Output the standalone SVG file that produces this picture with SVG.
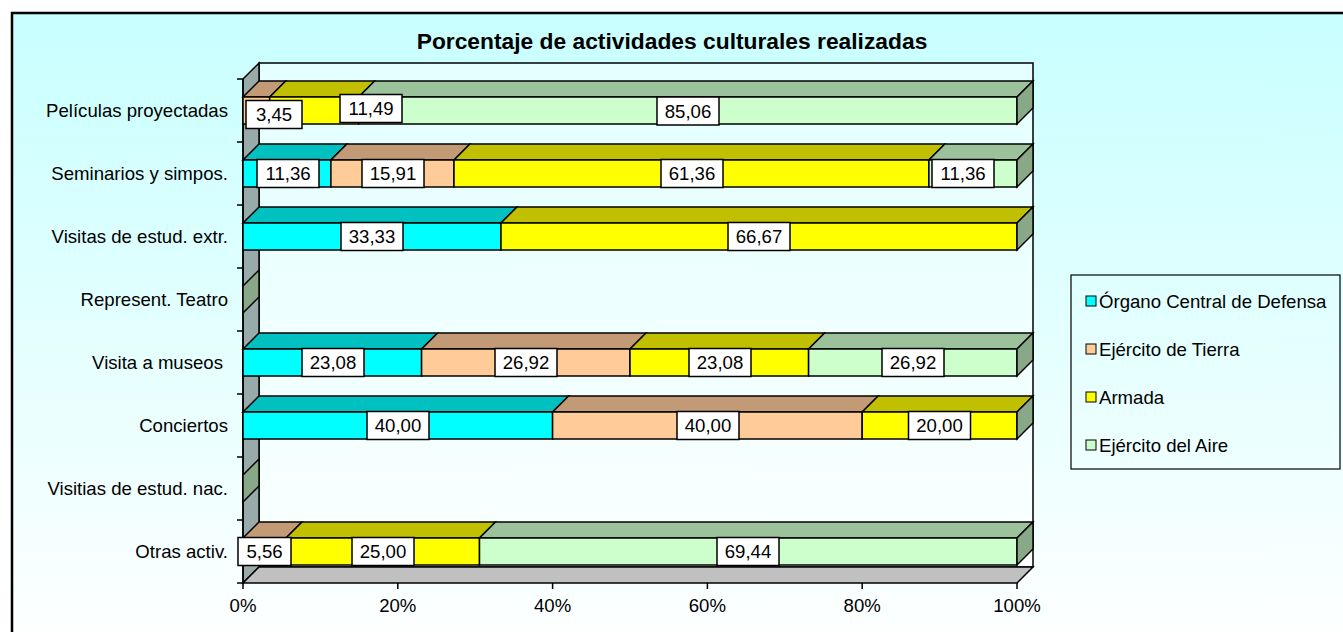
<svg xmlns="http://www.w3.org/2000/svg" width="1343" height="632" viewBox="0 0 1343 632">
<defs>
<linearGradient id="bg" x1="0" y1="0" x2="0" y2="1">
<stop offset="0" stop-color="#C8FFFF"/>
<stop offset="1" stop-color="#FFFFFF"/>
</linearGradient>
</defs>
<style>
text{font-family:"Liberation Sans",Arial,sans-serif;font-size:18.6px;fill:#000}
.title{font-weight:bold;text-anchor:middle;font-size:22.8px}
.cat{text-anchor:end}
.ax{text-anchor:middle}
.val{text-anchor:middle}
.lg{text-anchor:start}
.e{stroke:#000;stroke-width:1.5;stroke-linejoin:miter}
.lb{fill:#FFFFFF;stroke:#000;stroke-width:1.5}
.oF{fill:#00FFFF}.oT{fill:#00C0C0}
.tF{fill:#FFCC99}.tT{fill:#C29B76}
.aF{fill:#FFFF00}.aT{fill:#C0C000}
.iF{fill:#CCFFCC}.iT{fill:#9CC29C}.iS{fill:#88A888}
.tick{stroke:#000;stroke-width:1.5}
</style>
<rect x="0" y="0" width="1343" height="632" fill="#FFFFFF"/>
<rect x="12" y="13" width="1340" height="640" fill="url(#bg)" stroke="#000" stroke-width="2.5"/>
<text class="title" x="672" y="49">Porcentaje de actividades culturales realizadas</text>
<g id="plot-area">
<rect x="259" y="63" width="774" height="504" fill="#FFFFFF" fill-opacity="0.45" class="e"/>
<polygon points="243,79 259,63 259,567 243,583" fill="#99AAAA" class="e"/>
<polygon points="243,583 1017,583 1033,567 259,567" fill="#C0C0C0" class="e"/>
<line class="tick" x1="243" y1="79" x2="243" y2="583"/>
<g id="ticks">
<line class="tick" x1="237" y1="79" x2="243" y2="79"/>
<line class="tick" x1="237" y1="142" x2="243" y2="142"/>
<line class="tick" x1="237" y1="205" x2="243" y2="205"/>
<line class="tick" x1="237" y1="268" x2="243" y2="268"/>
<line class="tick" x1="237" y1="331" x2="243" y2="331"/>
<line class="tick" x1="237" y1="394" x2="243" y2="394"/>
<line class="tick" x1="237" y1="457" x2="243" y2="457"/>
<line class="tick" x1="237" y1="520" x2="243" y2="520"/>
<line class="tick" x1="237" y1="583" x2="243" y2="583"/>
<line class="tick" x1="243" y1="583" x2="243" y2="589"/>
<line class="tick" x1="397.8" y1="583" x2="397.8" y2="589"/>
<line class="tick" x1="552.6" y1="583" x2="552.6" y2="589"/>
<line class="tick" x1="707.4" y1="583" x2="707.4" y2="589"/>
<line class="tick" x1="862.2" y1="583" x2="862.2" y2="589"/>
<line class="tick" x1="1017" y1="583" x2="1017" y2="589"/>
</g>
</g>
<g id="axis-labels">
<text class="ax" x="243" y="612">0%</text>
<text class="ax" x="397.8" y="612">20%</text>
<text class="ax" x="552.6" y="612">40%</text>
<text class="ax" x="707.4" y="612">60%</text>
<text class="ax" x="862.2" y="612">80%</text>
<text class="ax" x="1017" y="612">100%</text>
</g>
<g id="categories">
<text class="cat" x="228" y="117">Películas proyectadas</text>
<text class="cat" x="228" y="180">Seminarios y simpos.</text>
<text class="cat" x="228" y="243">Visitas de estud. extr.</text>
<text class="cat" x="228" y="306">Represent. Teatro</text>
<text class="cat" x="223" y="369">Visita a museos</text>
<text class="cat" x="228" y="432">Conciertos</text>
<text class="cat" x="228" y="495">Visitias de estud. nac.</text>
<text class="cat" x="228" y="558">Otras activ.</text>
</g>
<g id="bar-peliculas">
<polygon class="e tT" points="243,97 269.7,97 285.7,81 259,81"/>
<rect class="e tF" x="243" y="97" width="26.7" height="27"/>
<polygon class="e aT" points="269.7,97 358.6,97 374.6,81 285.7,81"/>
<rect class="e aF" x="269.7" y="97" width="88.9" height="27"/>
<polygon class="e iT" points="358.6,97 1017,97 1033,81 374.6,81"/>
<rect class="e iF" x="358.6" y="97" width="658.4" height="27"/>
<polygon class="e iS" points="1017,97 1033,81 1033,108 1017,124"/>
</g>
<g id="bar-seminarios">
<polygon class="e oT" points="243,160 330.9,160 346.9,144 259,144"/>
<rect class="e oF" x="243" y="160" width="87.9" height="27"/>
<polygon class="e tT" points="330.9,160 454,160 470,144 346.9,144"/>
<rect class="e tF" x="330.9" y="160" width="123.1" height="27"/>
<polygon class="e aT" points="454,160 928.9,160 944.9,144 470,144"/>
<rect class="e aF" x="454" y="160" width="474.9" height="27"/>
<polygon class="e iT" points="928.9,160 1017,160 1033,144 944.9,144"/>
<rect class="e iF" x="928.9" y="160" width="88.1" height="27"/>
<polygon class="e iS" points="1017,160 1033,144 1033,171 1017,187"/>
</g>
<g id="bar-visitas-extr">
<polygon class="e oT" points="243,223 501,223 517,207 259,207"/>
<rect class="e oF" x="243" y="223" width="258" height="27"/>
<polygon class="e aT" points="501,223 1017,223 1033,207 517,207"/>
<rect class="e aF" x="501" y="223" width="516" height="27"/>
<polygon class="e iS" points="1017,223 1033,207 1033,234 1017,250"/>
</g>
<g id="bar-teatro">
<polygon class="e iS" points="243,286 259,270 259,297 243,313"/>
</g>
<g id="bar-museos">
<polygon class="e oT" points="243,349 421.6,349 437.6,333 259,333"/>
<rect class="e oF" x="243" y="349" width="178.6" height="27"/>
<polygon class="e tT" points="421.6,349 630,349 646,333 437.6,333"/>
<rect class="e tF" x="421.6" y="349" width="208.4" height="27"/>
<polygon class="e aT" points="630,349 808.6,349 824.6,333 646,333"/>
<rect class="e aF" x="630" y="349" width="178.6" height="27"/>
<polygon class="e iT" points="808.6,349 1017,349 1033,333 824.6,333"/>
<rect class="e iF" x="808.6" y="349" width="208.4" height="27"/>
<polygon class="e iS" points="1017,349 1033,333 1033,360 1017,376"/>
</g>
<g id="bar-conciertos">
<polygon class="e oT" points="243,412 552.6,412 568.6,396 259,396"/>
<rect class="e oF" x="243" y="412" width="309.6" height="27"/>
<polygon class="e tT" points="552.6,412 862.2,412 878.2,396 568.6,396"/>
<rect class="e tF" x="552.6" y="412" width="309.6" height="27"/>
<polygon class="e aT" points="862.2,412 1017,412 1033,396 878.2,396"/>
<rect class="e aF" x="862.2" y="412" width="154.8" height="27"/>
<polygon class="e iS" points="1017,412 1033,396 1033,423 1017,439"/>
</g>
<g id="bar-visitas-nac">
<polygon class="e iS" points="243,475 259,459 259,486 243,502"/>
</g>
<g id="bar-otras">
<polygon class="e tT" points="243,538 286,538 302,522 259,522"/>
<rect class="e tF" x="243" y="538" width="43" height="27"/>
<polygon class="e aT" points="286,538 479.5,538 495.5,522 302,522"/>
<rect class="e aF" x="286" y="538" width="193.5" height="27"/>
<polygon class="e iT" points="479.5,538 1017,538 1033,522 495.5,522"/>
<rect class="e iF" x="479.5" y="538" width="537.5" height="27"/>
<polygon class="e iS" points="1017,538 1033,522 1033,549 1017,565"/>
</g>
<g id="value-labels">
<rect class="lb" x="246" y="100.5" width="56" height="28"/><text class="val" x="274" y="121">3,45</text>
<rect class="lb" x="340" y="94.5" width="62" height="28"/><text class="val" x="371" y="115">11,49</text>
<rect class="lb" x="657" y="97" width="62" height="28"/><text class="val" x="688" y="117.5">85,06</text>
<rect class="lb" x="257" y="159.5" width="62" height="28"/><text class="val" x="288" y="180">11,36</text>
<rect class="lb" x="362" y="159.5" width="62" height="28"/><text class="val" x="393" y="180">15,91</text>
<rect class="lb" x="661" y="159.5" width="62" height="28"/><text class="val" x="692" y="180">61,36</text>
<rect class="lb" x="932" y="159.5" width="62" height="28"/><text class="val" x="963" y="180">11,36</text>
<rect class="lb" x="341" y="222.5" width="62" height="28"/><text class="val" x="372" y="243">33,33</text>
<rect class="lb" x="728" y="222.5" width="62" height="28"/><text class="val" x="759" y="243">66,67</text>
<rect class="lb" x="302" y="348.5" width="62" height="28"/><text class="val" x="333" y="369">23,08</text>
<rect class="lb" x="495" y="348.5" width="62" height="28"/><text class="val" x="526" y="369">26,92</text>
<rect class="lb" x="689" y="348.5" width="62" height="28"/><text class="val" x="720" y="369">23,08</text>
<rect class="lb" x="882" y="348.5" width="62" height="28"/><text class="val" x="913" y="369">26,92</text>
<rect class="lb" x="367" y="411.5" width="62" height="28"/><text class="val" x="398" y="432">40,00</text>
<rect class="lb" x="677" y="411.5" width="62" height="28"/><text class="val" x="708" y="432">40,00</text>
<rect class="lb" x="908.5" y="411.5" width="62" height="28"/><text class="val" x="939.5" y="432">20,00</text>
<rect class="lb" x="238" y="537.5" width="53" height="28"/><text class="val" x="264.5" y="558">5,56</text>
<rect class="lb" x="352" y="537.5" width="62" height="28"/><text class="val" x="383" y="558">25,00</text>
<rect class="lb" x="717" y="537.5" width="62" height="28"/><text class="val" x="748" y="558">69,44</text>
</g>
<g id="legend">
<rect x="1071" y="275" width="269" height="194" fill="none" stroke="#000" stroke-width="1.2"/>
<rect x="1086" y="296" width="10" height="10" fill="#00FFFF" stroke="#000" stroke-width="1"/>
<text class="lg" x="1099" y="307.5">Órgano Central de Defensa</text>
<rect x="1086" y="344" width="10" height="10" fill="#FFCC99" stroke="#000" stroke-width="1"/>
<text class="lg" x="1099" y="355.5">Ejército de Tierra</text>
<rect x="1086" y="392" width="10" height="10" fill="#FFFF00" stroke="#000" stroke-width="1"/>
<text class="lg" x="1099" y="403.5">Armada</text>
<rect x="1086" y="440" width="10" height="10" fill="#CCFFCC" stroke="#000" stroke-width="1"/>
<text class="lg" x="1099" y="451.5">Ejército del Aire</text>
</g>
</svg>
